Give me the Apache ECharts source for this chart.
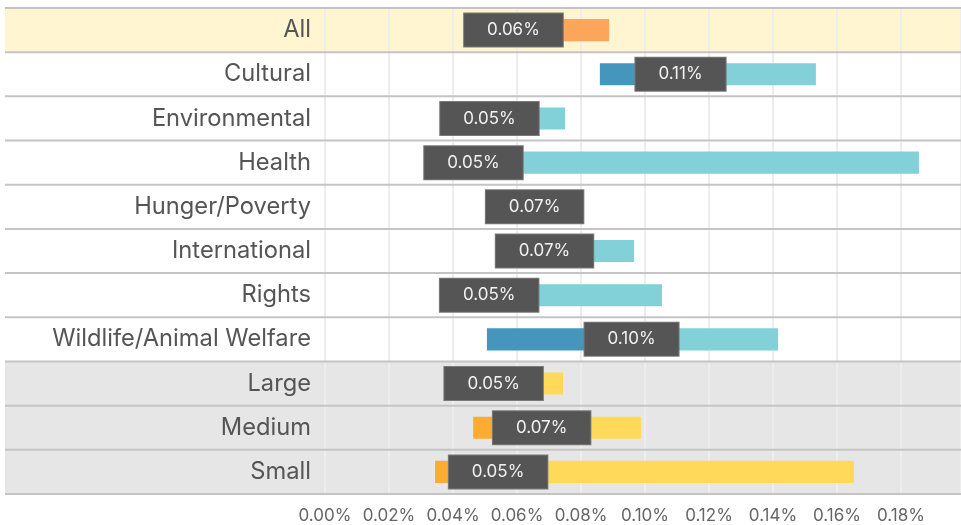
<!DOCTYPE html>
<html>
<head>
<meta charset="utf-8">
<script src="https://cdn.jsdelivr.net/npm/echarts@6/dist/echarts.min.js"></script>
<style>html,body{margin:0;padding:0;background:#fff;}#c{width:961px;height:525px;}</style>
</head>
<body>
<div id="c"></div>
<script>
// ---- data (values in percent) ----
const categories = ['All','Cultural','Environmental','Health','Hunger/Poverty','International','Rights','Wildlife/Animal Welfare','Large','Medium','Small'];
const rowGroups  = ['all','sector','sector','sector','sector','sector','sector','sector','size','size','size'];
const lowValues    = [0.047, 0.0859, 0.040, 0.035, 0.055, 0.058, 0.040, 0.0506, 0.042, 0.0463, 0.0344];
const medianValues = [0.0589, 0.1111, 0.0514, 0.0464, 0.0655, 0.0686, 0.0513, 0.0958, 0.0527, 0.0677, 0.0541];
const highValues   = [0.0888, 0.1534, 0.0750, 0.1856, 0.075, 0.0966, 0.1053, 0.1416, 0.0744, 0.0988, 0.1653];
const medianLabels = ['0.06%','0.11%','0.05%','0.05%','0.07%','0.07%','0.05%','0.10%','0.05%','0.07%','0.05%'];
const tickLabels = ['0.00%','0.02%','0.04%','0.06%','0.08%','0.10%','0.12%','0.14%','0.16%','0.18%'];

// ---- styles ----
const palette = {
  all:    { dark: '#f08c3c', light: '#fca65b', bg: '#fff5d1' },
  sector: { dark: '#4596bc', light: '#82d0d8', bg: null },
  size:   { dark: '#fcab33', light: '#ffd95a', bg: '#e6e6e6' }
};
const FONT = 'Inter, "Open Sans", sans-serif';
const LABEL_AREA = 320;

const rowData = categories.map((c, i) => [i]);
const barData = categories.map((c, i) => [i, lowValues[i], medianValues[i], highValues[i]]);

const chart = echarts.init(document.getElementById('c'), null, {renderer: 'canvas'});
chart.setOption({
  animation: false,
  grid: { left: 325, right: 0, top: 8, bottom: 31 },
  xAxis: {
    type: 'value', min: 0, max: 0.19875, interval: 0.02,
    axisLine: { show: false }, axisTick: { show: false },
    splitLine: { show: true, lineStyle: { color: '#ededed', width: 2 } },
    axisLabel: {
      showMaxLabel: false, margin: 13, color: '#666', fontSize: 17, fontFamily: FONT,
      formatter: function (v) { const k = Math.round(v / 0.02); return (Math.abs(v - k * 0.02) < 1e-9 && tickLabels[k]) ? tickLabels[k] : ''; }
    }
  },
  yAxis: {
    type: 'category', data: categories, inverse: true,
    axisLine: { show: false }, axisTick: { show: false }, splitLine: { show: false },
    axisLabel: { margin: 14, color: '#555', fontSize: 23.7, fontFamily: FONT, padding: [5, 0, 0, 0] }
  },
  series: [
    {
      type: 'custom', z: -1, silent: true, data: rowData,
      encode: { y: 0 },
      renderItem: function (params, api) {
        const i = api.value(0);
        const bg = palette[rowGroups[i]].bg;
        if (!bg) return null;
        const cs = params.coordSys;
        const yc = api.coord([0, i])[1];
        const h = api.size([0, 1])[1];
        return { type: 'rect', shape: { x: cs.x - LABEL_AREA, y: yc - h / 2, width: cs.width + LABEL_AREA, height: h }, style: { fill: bg } };
      }
    },
    {
      type: 'custom', z: 1, silent: true, data: rowData,
      encode: { y: 0 },
      renderItem: function (params, api) {
        const i = api.value(0);
        const cs = params.coordSys;
        const yc = api.coord([0, i])[1];
        const h = api.size([0, 1])[1];
        const x1 = cs.x - LABEL_AREA, x2 = cs.x + cs.width;
        const children = [{ type: 'line', shape: { x1: x1, y1: yc + h / 2, x2: x2, y2: yc + h / 2 }, style: { stroke: '#c4c4c4', lineWidth: 2 } }];
        if (i === 0) children.push({ type: 'line', shape: { x1: x1, y1: yc - h / 2, x2: x2, y2: yc - h / 2 }, style: { stroke: '#c4c4c4', lineWidth: 2 } });
        return { type: 'group', children: children };
      }
    },
    {
      type: 'custom', z: 3, data: barData,
      encode: { y: 0, x: [1, 2, 3] },
      renderItem: function (params, api) {
        const i = api.value(0);
        const col = palette[rowGroups[i]];
        const pLow = api.coord([api.value(1), i]);
        const pMed = api.coord([api.value(2), i]);
        const pHigh = api.coord([api.value(3), i]);
        const bh = api.size([0, 1])[1] * 0.5;
        const yc = pMed[1];
        return {
          type: 'group',
          children: [
            { type: 'rect', shape: { x: pLow[0], y: yc - bh / 2, width: pMed[0] - pLow[0], height: bh }, style: { fill: col.dark } },
            { type: 'rect', shape: { x: pMed[0], y: yc - bh / 2, width: pHigh[0] - pMed[0], height: bh }, style: { fill: col.light } },
            { type: 'text', x: pMed[0], y: yc, z2: 10,
              style: { text: medianLabels[i], fill: '#f2f2f2', font: '17px ' + FONT, align: 'center', verticalAlign: 'middle',
                       backgroundColor: '#555555', borderColor: '#7a7a7a', borderWidth: 1, padding: [8, 23, 8, 23], lineHeight: 17 } }
          ]
        };
      }
    }
  ]
});
</script>
</body>
</html>
